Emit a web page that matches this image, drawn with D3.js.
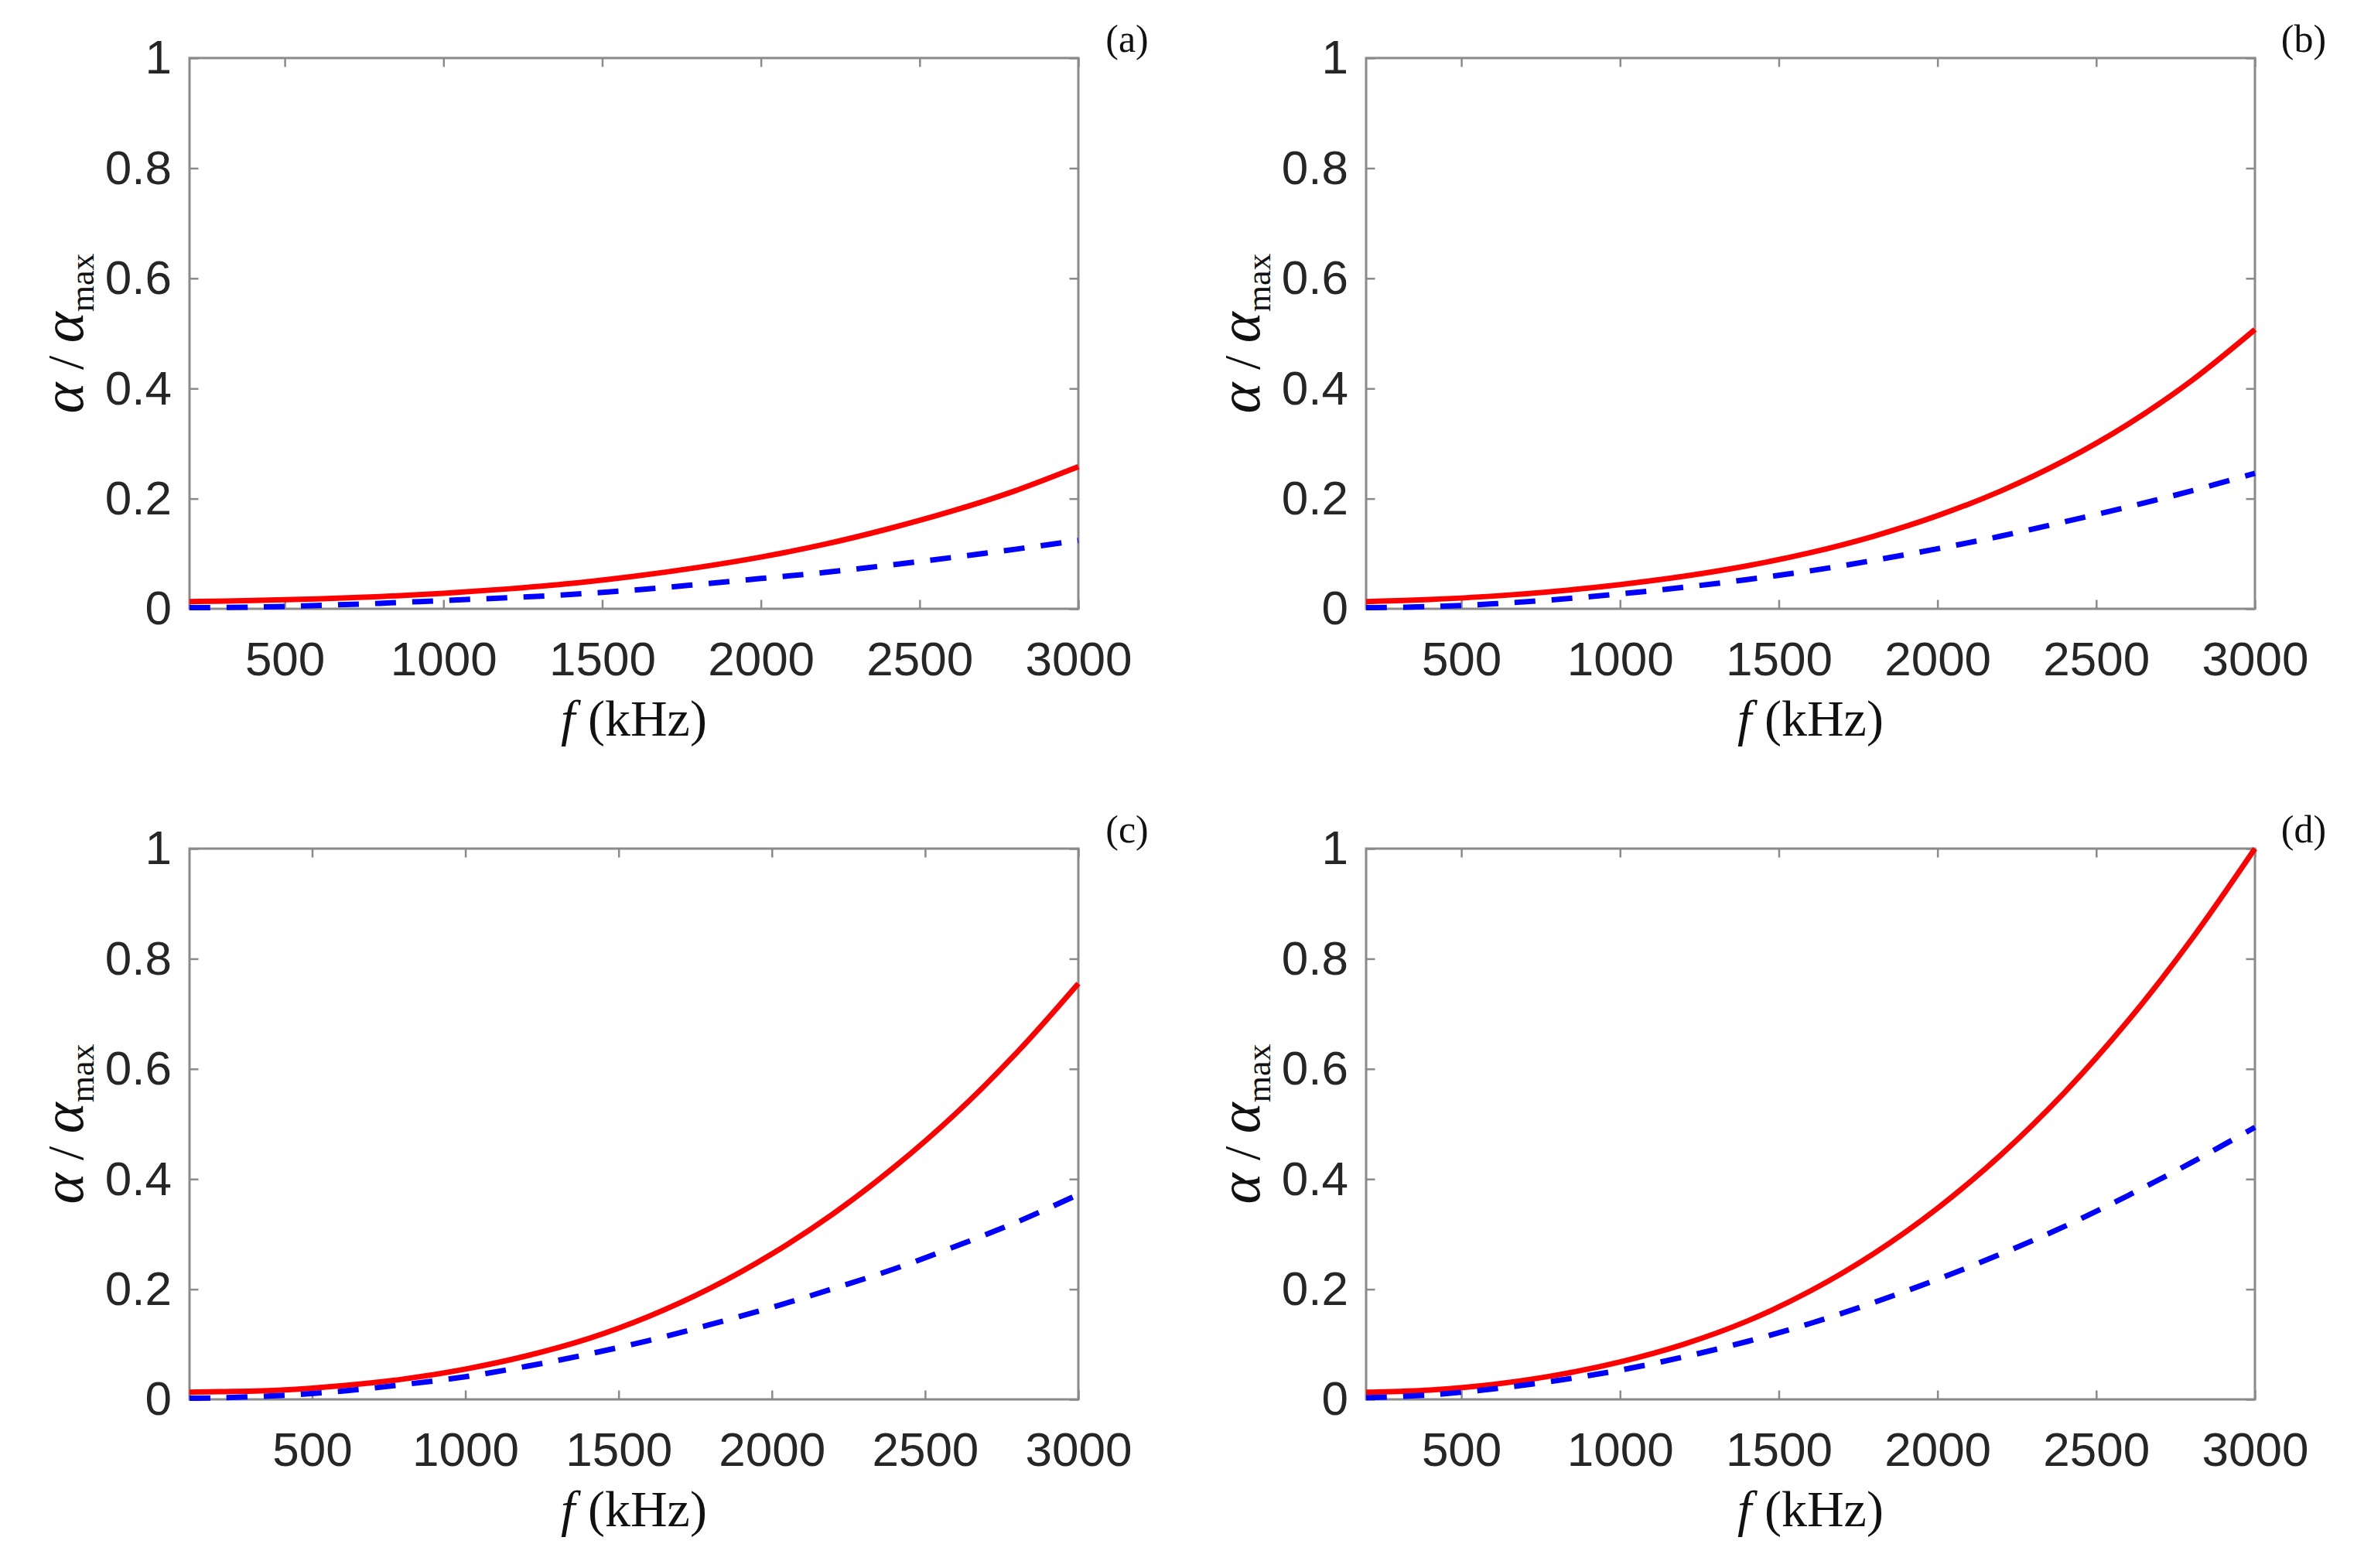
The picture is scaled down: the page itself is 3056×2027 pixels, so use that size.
<!DOCTYPE html>
<html>
<head>
<meta charset="utf-8">
<script src="https://cdn.jsdelivr.net/npm/d3@7"></script>
<style>
  body { margin: 0; background: #fff; }
  svg { display: block; }
</style>
</head>
<body>
<div id="chart"></div>
<script>
// frequencies (kHz) where the curves were read
var freqABD = [200, 400, 600, 800, 1000, 1200, 1400, 1600, 1800, 2000, 2200, 2400, 2600, 2800, 3000];
var freqC = [100, 200, 400, 600, 800, 1000, 1200, 1400, 1600, 1800, 2000, 2200, 2400, 2600, 2800, 3000];

// alpha / alpha_max, solid red and dashed blue, panel by panel
var redA = [0.013, 0.015, 0.018, 0.022, 0.028, 0.036, 0.046, 0.059, 0.075, 0.094, 0.117, 0.145, 0.177, 0.214, 0.258];
var blueA = [0.002, 0.003, 0.006, 0.010, 0.015, 0.020, 0.026, 0.034, 0.044, 0.055, 0.066, 0.079, 0.093, 0.108, 0.124];

var redB = [0.013, 0.017, 0.023, 0.032, 0.044, 0.059, 0.078, 0.102, 0.132, 0.169, 0.214, 0.269, 0.335, 0.414, 0.507];
var blueB = [0.002, 0.004, 0.009, 0.017, 0.027, 0.039, 0.053, 0.069, 0.088, 0.109, 0.132, 0.158, 0.185, 0.214, 0.246];

var redC = [0.013, 0.014, 0.017, 0.025, 0.037, 0.055, 0.079, 0.110, 0.151, 0.202, 0.264, 0.337, 0.422, 0.519, 0.630, 0.755];
var blueC = [0.002, 0.003, 0.007, 0.015, 0.027, 0.041, 0.060, 0.082, 0.107, 0.136, 0.167, 0.201, 0.237, 0.278, 0.322, 0.372];

var redD = [0.013, 0.017, 0.027, 0.044, 0.068, 0.100, 0.142, 0.197, 0.265, 0.347, 0.444, 0.557, 0.687, 0.835, 1.000];
var blueD = [0.003, 0.008, 0.019, 0.034, 0.053, 0.077, 0.105, 0.138, 0.176, 0.218, 0.264, 0.314, 0.370, 0.430, 0.494];

var xTicks = [500, 1000, 1500, 2000, 2500, 3000];
var yTicks = [0, 0.2, 0.4, 0.6, 0.8, 1];
var yTickLabels = ["0", "0.2", "0.4", "0.6", "0.8", "1"];
var panelLabels = ["(a)", "(b)", "(c)", "(d)"];
var xMin = [200, 200, 100, 200];

var panels = [
  { f: freqABD, red: redA, blue: blueA },
  { f: freqABD, red: redB, blue: blueB },
  { f: freqC, red: redC, blue: blueC },
  { f: freqABD, red: redD, blue: blueD }
];

var svgWidth = 3056;
var svgHeight = 2027;
var colLeft = [245, 1766];
var rowTop = [75, 1097];
var plotW = 1149;
var plotH = 712;
var tickLen = 11.5;
var boxColor = "#8a8a8a";
var textColor = "#262626";

var svg = d3.select("#chart")
  .append("svg")
  .attr("width", svgWidth)
  .attr("height", svgHeight);

panels.forEach((p, i) => {
  var left = colLeft[i % 2];
  var top = rowTop[Math.floor(i / 2)];

  var g = svg.append("g")
    .attr("transform", `translate(${left}, ${top})`);

  var x = d3.scaleLinear().domain([xMin[i], 3000]).range([0, plotW]);
  var y = d3.scaleLinear().domain([0, 1]).range([plotH, 0]);

  // bottom axis with labels
  var xAxis = g.append("g")
    .attr("transform", `translate(0, ${plotH})`)
    .call(d3.axisBottom(x).tickValues(xTicks).tickSizeInner(-tickLen).tickSizeOuter(0).tickPadding(42)
      .tickFormat(d => String(d)));
  // top axis, ticks only
  var xTop = g.append("g")
    .call(d3.axisTop(x).tickValues(xTicks).tickSizeInner(-tickLen).tickSizeOuter(0).tickFormat(""));
  // left axis with labels
  var yAxis = g.append("g")
    .call(d3.axisLeft(y).tickValues(yTicks).tickSizeInner(-tickLen).tickSizeOuter(0).tickPadding(23)
      .tickFormat((d, k) => yTickLabels[k]));
  // right axis, ticks only
  var yRight = g.append("g")
    .attr("transform", `translate(${plotW}, 0)`)
    .call(d3.axisRight(y).tickValues(yTicks).tickSizeInner(-tickLen).tickSizeOuter(0).tickFormat(""));

  [xAxis, xTop, yAxis, yRight].forEach(a => {
    a.select(".domain").remove();
    a.selectAll(".tick line").attr("stroke", boxColor).attr("stroke-width", 2.5);
    a.selectAll("text")
      .attr("fill", textColor)
      .style("font-family", "'Liberation Sans', Arial, sans-serif")
      .style("font-size", "62px");
  });

  g.append("rect")
    .attr("width", plotW)
    .attr("height", plotH)
    .attr("fill", "none")
    .attr("stroke", boxColor)
    .attr("stroke-width", 3);

  var line = d3.line()
    .x(d => x(d[0]))
    .y(d => y(d[1]))
    .curve(d3.curveCatmullRom.alpha(0.5));

  g.append("path")
    .datum(p.f.map((f, k) => [f, p.red[k]]))
    .attr("d", line)
    .attr("fill", "none")
    .attr("stroke", "#ff0000")
    .attr("stroke-width", 7);

  g.append("path")
    .datum(p.f.map((f, k) => [f, p.blue[k]]))
    .attr("d", line)
    .attr("fill", "none")
    .attr("stroke", "#0000ff")
    .attr("stroke-width", 7)
    .attr("stroke-dasharray", "27,21");

  // x label: f (kHz)
  var xl = g.append("text")
    .attr("x", plotW / 2)
    .attr("y", plotH + 164)
    .attr("text-anchor", "middle")
    .attr("fill", "#111")
    .style("font-family", "'Liberation Serif', 'Times New Roman', serif")
    .style("font-size", "66px");
  xl.append("tspan").style("font-style", "italic").text("f");
  xl.append("tspan").text(" (kHz)");

  // y label: alpha / alpha_max
  var yl = g.append("text")
    .attr("transform", `translate(-138, ${plotH / 2}) rotate(-90)`)
    .attr("text-anchor", "middle")
    .attr("fill", "#111")
    .style("font-family", "'Liberation Serif', 'Times New Roman', serif")
    .style("font-size", "66px");
  yl.append("tspan").style("font-style", "italic").style("font-size", "76px").text("α");
  yl.append("tspan").text(" / ");
  yl.append("tspan").style("font-style", "italic").style("font-size", "76px").text("α");
  yl.append("tspan").attr("dy", 14).style("font-size", "44px").text("max");

  // panel letter
  g.append("text")
    .attr("x", plotW + 63)
    .attr("y", -8)
    .attr("text-anchor", "middle")
    .attr("fill", "#111")
    .style("font-family", "'Liberation Serif', 'Times New Roman', serif")
    .style("font-size", "50px")
    .text(panelLabels[i]);
});
</script>
</body>
</html>
